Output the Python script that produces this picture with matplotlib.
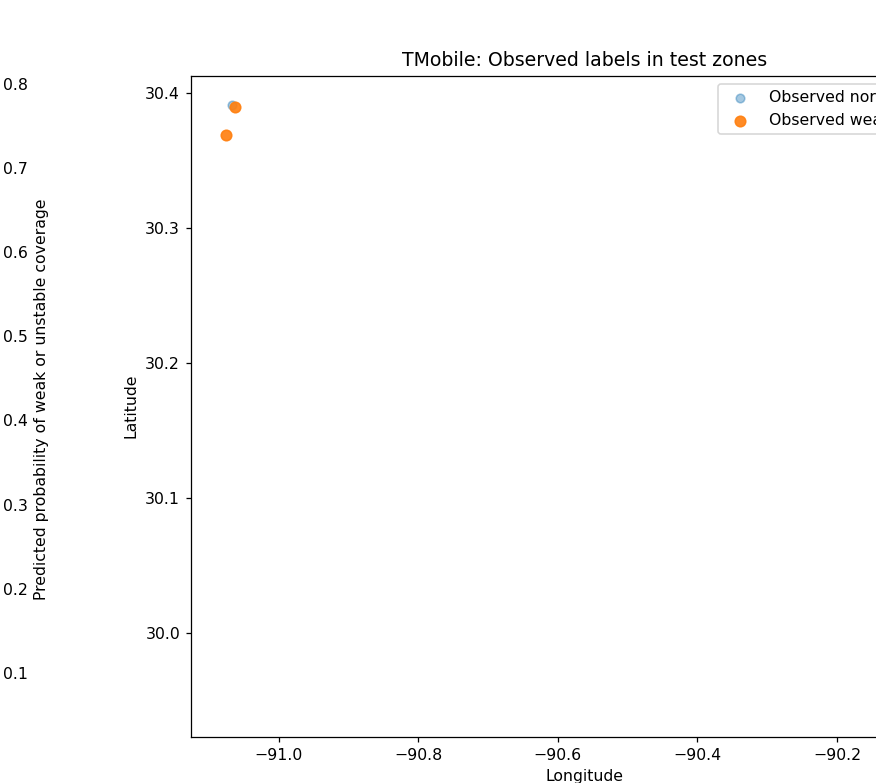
import numpy as np
import matplotlib
matplotlib.use("Agg")
import matplotlib.pyplot as plt
from matplotlib.cm import ScalarMappable
from matplotlib.colors import Normalize

# --- data ---
normal_lon = [-91.0665]
normal_lat = [30.3913]
weak_lon = [-91.0622, -91.0755]
weak_lat = [30.3898, 30.3689]
prob_range = [0.0224, 0.8285]
prob_ticks = [0.1, 0.2, 0.3, 0.4, 0.5, 0.6, 0.7, 0.8]
lon_limits = [-91.1256, -89.998]
lat_limits = [29.923, 30.4128]
labels = ["Observed normal", "Observed weak/unstable"]

W, H = 876, 783
DPI = 113
fig = plt.figure(figsize=(W / DPI, H / DPI), dpi=DPI)

def px_axes(x0, y0, x1, y1):
    return fig.add_axes([x0 / W, 1 - y1 / H, (x1 - x0) / W, (y1 - y0) / H])

# colorbar from a cropped-out panel on the left
cax = px_axes(-28, 60, -7.8, 738)
sm = ScalarMappable(norm=Normalize(*prob_range), cmap="viridis")
cb = fig.colorbar(sm, cax=cax)
cb.set_ticks(prob_ticks)
cb.set_label("Predicted probability of weak or unstable coverage")

ax = px_axes(191, 75.7, 978, 736.7)
ax.scatter(normal_lon, normal_lat, s=30, color="tab:blue", alpha=0.4, label=labels[0])
ax.scatter(weak_lon, weak_lat, s=45, color="tab:orange", alpha=0.9, label=labels[1])
ax.set_xlim(*lon_limits)
ax.set_ylim(*lat_limits)
ax.set_xticks([-91.0, -90.8, -90.6, -90.4, -90.2])
ax.set_yticks([30.0, 30.1, 30.2, 30.3, 30.4])
ax.set_xlabel("Longitude")
ax.set_ylabel("Latitude")
ax.set_title("TMobile: Observed labels in test zones")
ax.legend(loc="upper right")

fig.savefig("out.png", dpi=DPI)
